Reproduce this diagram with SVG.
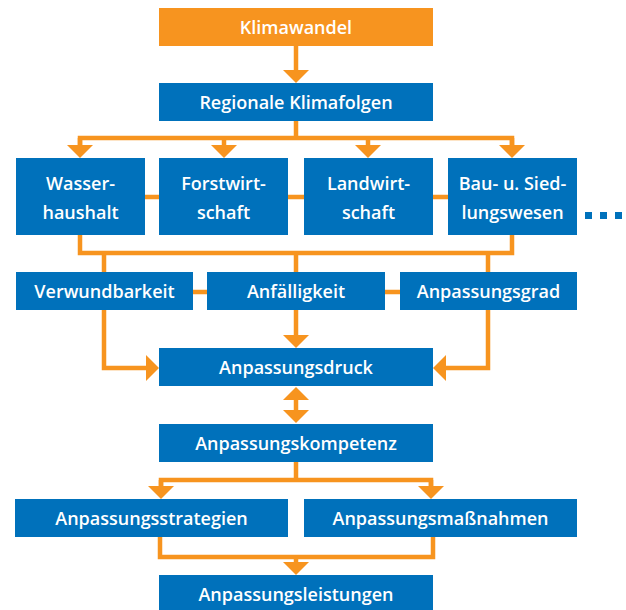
<svg xmlns="http://www.w3.org/2000/svg" width="626" height="610" viewBox="0 0 626 610">
<style>
.b{fill:#0071BB}
.o{fill:#F7941F}
text{font-family:"Open Sans","Liberation Sans",sans-serif;font-weight:600;font-size:18px;fill:#fff;text-anchor:middle}
.c path{fill:none;stroke:#F7941F;stroke-width:4.5;stroke-linejoin:miter;stroke-linecap:butt}
</style>
<defs>
<marker id="ah" viewBox="0 0 13 26" refX="0" refY="13" markerWidth="13" markerHeight="26" markerUnits="userSpaceOnUse" orient="auto-start-reverse">
<path d="M0,0 L13,13 L0,26 Z" fill="#F7941F"/>
</marker>
</defs>
<g class="c" id="connectors">
<path d="M296,46 V70" marker-end="url(#ah)"/>
<path d="M296,121 V138"/>
<path d="M80,145 V138 H512 V145"/>
<path d="M80,138 V145" marker-end="url(#ah)"/>
<path d="M224,138 V145" marker-end="url(#ah)"/>
<path d="M368,138 V145" marker-end="url(#ah)"/>
<path d="M512,138 V145" marker-end="url(#ah)"/>
<path d="M145,197 H159 M288,197 H304 M433,197 H448"/>
<path d="M80,234 V253 H512 V234"/>
<path d="M104,253 V272 M296,253 V272 M488,253 V272"/>
<path d="M193,292 H207 M385,292 H400"/>
<path d="M104,310 V368 H146" marker-end="url(#ah)"/>
<path d="M296,310 V335" marker-end="url(#ah)"/>
<path d="M488,310 V368 H446" marker-end="url(#ah)"/>
<path d="M296,400 V410" marker-start="url(#ah)" marker-end="url(#ah)"/>
<path d="M296,462 V480"/>
<path d="M161,486 V480 H431 V486"/>
<path d="M161,480 V486" marker-end="url(#ah)"/>
<path d="M431,480 V486" marker-end="url(#ah)"/>
<path d="M160,537 V557 H433 V537"/>
<path d="M296,557 V562" marker-end="url(#ah)"/>
</g>
<g id="klimawandel"><rect class="o" x="159" y="8" width="274" height="38"/><text x="296" y="34">Klimawandel</text></g>
<g id="regionale"><rect class="b" x="159" y="83" width="274" height="38"/><text x="296" y="109">Regionale Klimafolgen</text></g>
<g id="wasserhaushalt"><rect class="b" x="16" y="158" width="129" height="77"/><text x="80.5" y="190">Wasser-</text><text x="80.5" y="219">haushalt</text></g>
<g id="forstwirtschaft"><rect class="b" x="159" y="158" width="129" height="77"/><text x="223.5" y="190">Forstwirt-</text><text x="223.5" y="219">schaft</text></g>
<g id="landwirtschaft"><rect class="b" x="304" y="158" width="129" height="77"/><text x="368.5" y="190">Landwirt-</text><text x="368.5" y="219">schaft</text></g>
<g id="siedlungswesen"><rect class="b" x="448" y="158" width="129" height="77"/><text x="512.5" y="190">Bau- u. Sied-</text><text x="512.5" y="219">lungswesen</text></g>
<g id="more"><rect class="b" x="585" y="212" width="7" height="7"/><rect class="b" x="600" y="212" width="7" height="7"/><rect class="b" x="615" y="212" width="7" height="7"/></g>
<g id="verwundbarkeit"><rect class="b" x="16" y="272" width="177" height="38"/><text x="104.5" y="298">Verwundbarkeit</text></g>
<g id="anfaelligkeit"><rect class="b" x="207" y="272" width="178" height="38"/><text x="296" y="298">Anfälligkeit</text></g>
<g id="anpassungsgrad"><rect class="b" x="400" y="272" width="177" height="38"/><text x="488.5" y="298">Anpassungsgrad</text></g>
<g id="anpassungsdruck"><rect class="b" x="159" y="348" width="274" height="38"/><text x="296" y="374">Anpassungsdruck</text></g>
<g id="anpassungskompetenz"><rect class="b" x="159" y="424" width="274" height="38"/><text x="296" y="450">Anpassungskompetenz</text></g>
<g id="anpassungsstrategien"><rect class="b" x="15" y="499" width="273" height="38"/><text x="151.5" y="525">Anpassungsstrategien</text></g>
<g id="anpassungsmassnahmen"><rect class="b" x="304" y="499" width="273" height="38"/><text x="440.5" y="525">Anpassungsmaßnahmen</text></g>
<g id="anpassungsleistungen"><rect class="b" x="159" y="575" width="274" height="38"/><text x="296" y="601">Anpassungsleistungen</text></g>
</svg>
